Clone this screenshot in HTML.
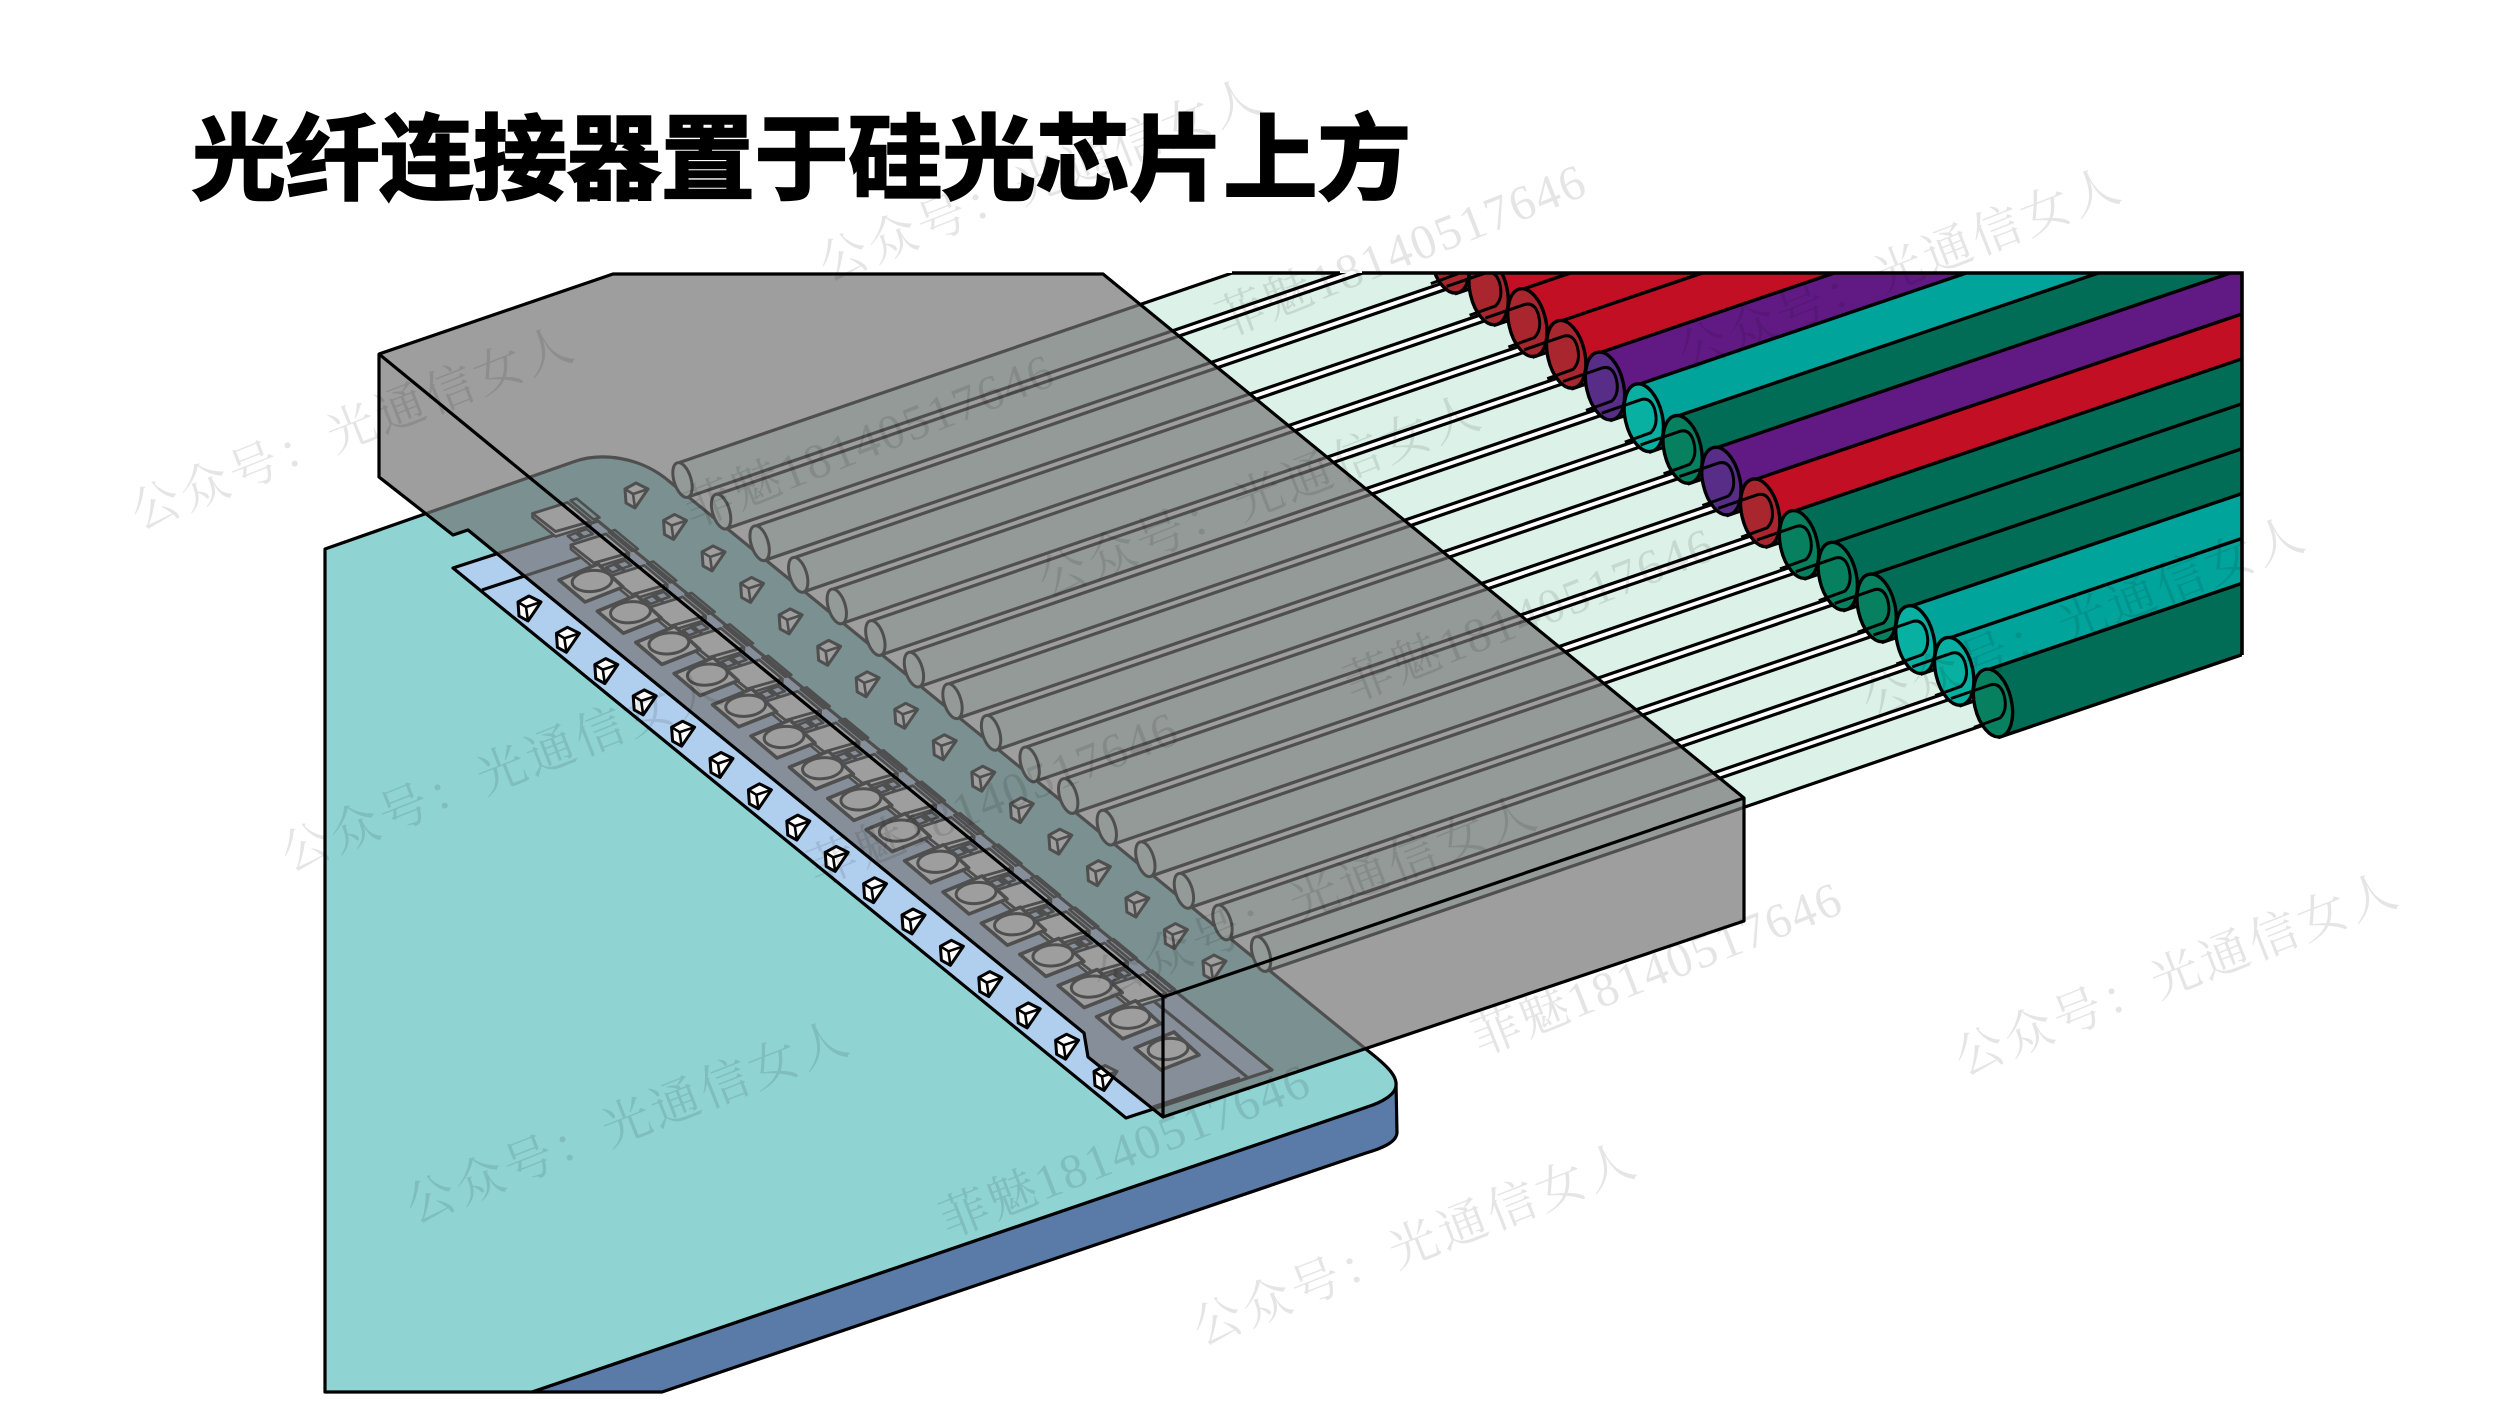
<!DOCTYPE html>
<html lang="zh"><head><meta charset="utf-8"><style>
html,body{margin:0;padding:0;background:#fff;width:2500px;height:1406px;overflow:hidden}
svg{display:block}
</style></head><body>
<svg id="s" xmlns="http://www.w3.org/2000/svg" width="2500" height="1406" viewBox="0 0 2500 1406">
<defs><clipPath id="c"><rect x="0" y="273" width="2242" height="1133"/></clipPath></defs>
<path d="M1396 1083L1397 1133C1396 1143 1380 1149 1366 1153L662 1392L532 1392L1367 1107Z" fill="#5a7ba7" stroke="#000" stroke-width="3.2" stroke-linejoin="round"/>
<path d="M325 549L573 462C600 452 640 456 670 482L1367 1050C1385 1064 1397 1075 1396 1085C1396 1095 1380 1103 1367 1107L532 1392L325 1392Z" fill="#8fd3d3" stroke="#000" stroke-width="3.2" stroke-linejoin="round"/>
<path d="M453 568L598 521L1272 1070L1126 1118Z" fill="#b0cfee" stroke="#000" stroke-width="3.2" stroke-linejoin="round"/>
<path d="M482 590L600 551L1247 1077M1153 1107L1240 1078" fill="none" stroke="#000" stroke-width="3.2"/>
<g id="chip"></g>
<g id="cubes"></g>
<g id="fib" clip-path="url(#c)"></g>
<path d="M1232 273H1340M1362 273H2242V655" fill="none" stroke="#000" stroke-width="3.6" stroke-linejoin="miter"/>
<path d="M379 354L613 274L1103 274L1744 798L1744 921L1163 1117L1088 1057L1084 1033L468 530L453 535L379 477Z" fill="rgba(114,114,114,.69)" stroke="#000" stroke-width="3.2" stroke-linejoin="round"/>
<path d="M379 354L1163 997L1744 798M1163 997V1117" fill="none" stroke="#000" stroke-width="3.2" stroke-linejoin="round"/>
<g font-family="'Liberation Serif','Noto Serif CJK SC',serif" font-size="49" fill="#000" fill-opacity=".1">
<text transform="translate(139,530) rotate(-21.5)" textLength="470">公众号：光通信女人</text>
<text transform="translate(289,872) rotate(-21.5)" textLength="470">公众号：光通信女人</text>
<text transform="translate(414,1224) rotate(-21.5)" textLength="470">公众号：光通信女人</text>
<text transform="translate(1201,1346) rotate(-21.5)" textLength="470">公众号：光通信女人</text>
<text transform="translate(1963,1076) rotate(-21.5)" textLength="470">公众号：光通信女人</text>
<text transform="translate(827,282) rotate(-21.5)" textLength="470">公众号：光通信女人</text>
<text transform="translate(1046,598) rotate(-21.5)" textLength="470">公众号：光通信女人</text>
<text transform="translate(1102,998) rotate(-21.5)" textLength="470">公众号：光通信女人</text>
<text transform="translate(1686,371) rotate(-21.5)" textLength="470">公众号：光通信女人</text>
<text transform="translate(1870,720) rotate(-21.5)" textLength="470">公众号：光通信女人</text>
<text transform="translate(1224,338) rotate(-21.5)" textLength="392">菲魅18140517646</text>
<text transform="translate(692,528) rotate(-21.5)" textLength="392">菲魅18140517646</text>
<text transform="translate(1352,702) rotate(-21.5)" textLength="392">菲魅18140517646</text>
<text transform="translate(948,1238) rotate(-21.5)" textLength="392">菲魅18140517646</text>
<text transform="translate(1480,1056) rotate(-21.5)" textLength="392">菲魅18140517646</text>
<text transform="translate(816,886) rotate(-21.5)" textLength="392">菲魅18140517646</text>
</g>
<text x="192" y="192" font-family="'Liberation Sans','Noto Sans CJK SC',sans-serif" font-weight="700" font-size="93" textLength="1219" lengthAdjust="spacingAndGlyphs" fill="#000" stroke="#000" stroke-width="2.5">光纤连接器置于硅光芯片上方</text>
</svg>
<script>
(function(){
var L='stroke="#000" stroke-linejoin="round"';
function P(pts,x,y){return pts.map(function(p){return (p[0]+x)+','+(p[1]+y)}).join(' ')}
var chip='';
for(var k=0;k<16;k++){
  var x=561.5+38.37*k,y=517.5+31.47*k;
  chip+='<polygon points="'+P([[9,-17],[15,-19],[38,0],[32,2]],x,y)+'" fill="none" '+L+' stroke-width="2.6"/>';
  if(k>0){
    chip+='<polygon points="'+P([[-32,-13],[-24,-16],[-18,-11],[-26,-8]],x,y)+'" fill="none" '+L+' stroke-width="2.6"/>';
    chip+='<polygon points="'+P([[-22,-17],[-13,-20],[-7,-15],[-16,-12]],x,y)+'" fill="none" '+L+' stroke-width="2.6"/>';
  }
  chip+='<polygon points="'+P([[-29,-4],[-6,14],[29,4],[29,8],[-6,19],[-29,0]],x,y)+'" fill="#fff" '+L+' stroke-width="2.6"/>';
  chip+='<polygon points="'+P([[-29,-4],[6,-15],[29,4],[-6,14]],x,y)+'" fill="#fff" '+L+' stroke-width="2.8"/>';
}
for(k=0;k<16;k++){
  var x=592+38.4*k,y=580+31.2*k;
  chip+='<polygon points="'+P([[-33,0],[-7,22],[31,7],[6,-16]],x,y)+'" fill="#fff" '+L+' stroke-width="3.6"/>';
  chip+='<ellipse cx="'+x+'" cy="'+(y+1)+'" rx="20" ry="10.5" transform="rotate(-5 '+x+' '+y+')" fill="#fff" '+L+' stroke-width="3"/>';
}
document.getElementById('chip').innerHTML=chip;
var cube='';
function C(x,y){
  cube+='<polygon points="'+P([[-11,-6],[0,-12],[12,-6],[-1,13],[-10,8]],x,y)+'" fill="#fff" '+L+' stroke-width="3"/>';
  cube+='<polyline points="'+P([[-11,-6],[-3,-1],[12,-6]],x,y)+'" fill="none" '+L+' stroke-width="2.6"/>';
  cube+='<polyline points="'+P([[-3,-1],[-1,13]],x,y)+'" fill="none" '+L+' stroke-width="2.6"/>';
}
for(k=0;k<16;k++){C(529+38.4*k,608+31.3*k);C(636+38.53*k,495+31.47*k);}
document.getElementById('cubes').innerHTML=cube;
var f='';
for(k=15;k>=0;k--){
  var cx=682.5+38.57*(15-k),cy=480+31.6*(15-k),dx=732,dy=-251;
  f+='<polygon points="'+(cx-3)+','+(cy-17.5)+' '+(cx-3+dx)+','+(cy-17.5+dy)+' '+(cx+4+dx)+','+(cy+17.5+dy)+' '+(cx+4)+','+(cy+17.5)+'" fill="#dcf2e9" stroke="none"/>';
  f+='<path d="M'+(cx-3)+' '+(cy-17.5)+'l'+dx+' '+dy+'M'+(cx+4)+' '+(cy+17.5)+'l'+dx+' '+dy+'" stroke="#000" stroke-width="3.2" fill="none"/>';
  f+='<ellipse cx="'+cx+'" cy="'+cy+'" rx="8.5" ry="18" transform="rotate(-17 '+cx+' '+cy+')" fill="#dcf2e9" stroke="#000" stroke-width="3"/>';
}
var g='#026d56',t='#00a49b',r='#c20f23',u='#611a84';
var col=[g,t,t,g,g,g,r,u,g,t,u,r,r,r,r];
var face={};face[g]='#06805f';face[t]='#07b0a0';face[r]='#a9262e';face[u]='#582d88';
for(k=14;k>=0;k--){
  var x=1993-38.8*k,y=703-31.7*k,c=col[k],fc=face[c];
  var tx=x-3,ty=y-34,bx=x+7,by=y+34,w=2300-x;
  f+='<polygon points="'+tx+','+ty+' '+(tx+w)+','+(ty-.34*w)+' '+(bx+w)+','+(by-.34*w)+' '+bx+','+by+'" fill="'+c+'" stroke="#000" stroke-width="3.4"/>';
  f+='<ellipse cx="'+x+'" cy="'+y+'" rx="18.5" ry="34.5" transform="rotate(-13 '+x+' '+y+')" fill="'+fc+'" stroke="#000" stroke-width="3.4"/>';
  f+='<path transform="translate('+x+','+y+')" d="M-42 -4.5L-3 -18Q7 -21 11 -8Q15 7 7 15L-19 24.4" fill="none" stroke="#000" stroke-width="3"/>';
}
document.getElementById('fib').innerHTML=f;
})();
</script>
</body></html>
